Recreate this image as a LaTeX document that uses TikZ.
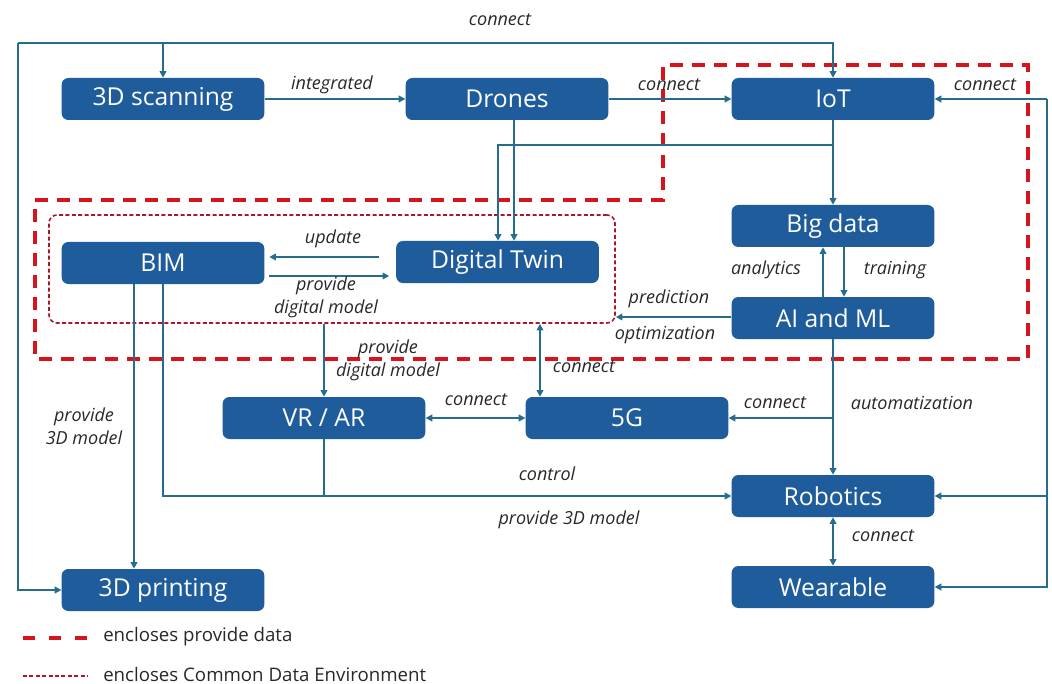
\documentclass[tikz,border=0pt]{standalone}
\usepackage{fontspec}
\setmainfont{Open Sans}
\usetikzlibrary{arrows.meta}
\definecolor{boxblue}{RGB}{31,92,155}
\definecolor{linecol}{RGB}{38,108,140}
\definecolor{reddash}{RGB}{214,20,28}
\definecolor{cdered}{RGB}{170,24,40}
\definecolor{labgray}{RGB}{40,40,40}
\tikzset{
  box/.style={fill=boxblue, rounded corners=5pt, minimum width=152pt, minimum height=31.5pt,
    inner sep=0pt, text=white, font=\fontsize{18.5}{20}\selectfont},
  conn/.style={draw=linecol, line width=1.4pt, arrows={-Triangle[length=5pt,width=5pt]}},
  dbl/.style={arrows={Triangle[length=5pt,width=5pt]-Triangle[length=5pt,width=5pt]}},
  plain/.style={draw=linecol, line width=1.4pt},
  lab/.style={text=labgray, font=\fontsize{13.5}{17}\selectfont\itshape, align=center, inner sep=0pt},
  leg/.style={text=labgray, font=\fontsize{14}{16}\selectfont, inner sep=0pt, anchor=west},
  provdata/.style={draw=reddash, line width=2.4pt, dash pattern=on 10pt off 6.5pt},
  cdebox/.style={draw=cdered, line width=1.2pt, dash pattern=on 3pt off 1.8pt, rounded corners=6pt}
}
\begin{document}
\begin{tikzpicture}[x=0.75pt,y=-0.75pt]
\useasboundingbox (0,0) rectangle (1052,684);
% enclosures
\draw[provdata] (35,200) -- (663,200) -- (663,65) -- (1028,65) -- (1028,359) -- (35,359) -- cycle;
\node[cdebox, minimum width=424.5pt, minimum height=81pt] (cde) at (332,269) {};
% nodes
\node[box] (scan) at (163,99) {3D scanning};
\node[box] (drones) at (507,99) {Drones};
\node[box] (iot) at (833,99) {IoT};
\node[box] (bim) at (163,263) {BIM};
\node[box] (dt) at (497.5,262) {Digital Twin};
\node[box] (bigdata) at (833,226) {Big data};
\node[box] (ai) at (833,318) {AI and ML};
\node[box] (vrar) at (324,418) {VR / AR};
\node[box] (fiveg) at (627,418) {5G};
\node[box] (robot) at (833,496) {Robotics};
\node[box] (wear) at (833,587) {Wearable};
\node[box] (print) at (163,590) {3D printing};
% coordinates
\coordinate (tl) at (18,43);
\coordinate (iotbr) at (833,145);
\coordinate (rx) at (1047,99);
\coordinate (dtin) at (498,0);
\coordinate (drx) at (514,0);
\coordinate (bimx) at (134,0);
\coordinate (cdex) at (540,0);
\coordinate (fgbr) at (833,418);
\coordinate (anx) at (823,0);
\coordinate (trx) at (844,0);
% top connect network
\draw[conn] (tl) -| (iot.north);
\draw[conn] (tl) |- (print.west);
\draw[conn] (scan.north |- tl) -- (scan.north);
% row 1
\draw[conn] (scan.east) -- (drones.west);
\draw[conn] (drones.east) -- (iot.west);
\draw[conn] (iot.south) -- (bigdata.north);
\draw[conn] (iotbr) -| (dt.north -| dtin);
\draw[conn] (drones.south -| drx) -- (dt.north -| drx);
% BIM <-> DT
\draw[conn, shorten <=13pt, shorten >=3.5pt] ([yshift=3.75pt]dt.west) -- ([yshift=3.75pt]dt.west -| bim.east);
\draw[conn, shorten <=3.5pt, shorten >=5pt] ([yshift=-9.75pt]bim.east) -- ([yshift=-9.75pt]bim.east -| dt.west);
% big data / AI
\draw[conn] (ai.north -| anx) -- (bigdata.south -| anx);
\draw[conn] (bigdata.south -| trx) -- (ai.north -| trx);
\draw[conn] ([yshift=0.75pt]ai.west) -- ([yshift=0.75pt]ai.west -| cde.east);
% CDE to VR/AR and 5G
\draw[conn] (cde.south -| vrar.north) -- (vrar.north);
\draw[conn, dbl] (cde.south -| cdex) -- (fiveg.north -| cdex);
\draw[conn, dbl] (vrar.east) -- (fiveg.west);
% AI to robotics and 5G
\draw[conn] (ai.south) -- (robot.north);
\draw[conn] (fgbr) -- (fiveg.east);
\draw[conn, dbl] (robot.south) -- (wear.north);
% right connect line
\draw[conn] (rx) -- (iot.east);
\draw[conn] (rx) |- (wear.east);
\draw[conn] (robot.east -| rx) -- (robot.east);
% BIM lines
\draw[conn] (bim.south -| bimx) -- (print.north -| bimx);
\draw[conn] (bim.south) |- (robot.west);
\draw[plain] (vrar.south) -- (vrar.south |- robot.west);
% labels
\node[lab] (l1) at (500,20) {connect};
\node[lab] (l2) at (332,85) {integrated};
\node[lab] (l3) at (669,85) {connect};
\node[lab] (l4) at (985,85) {connect};
\node[lab] (l5) at (333,239) {update};
\node[lab] (l6) at (326,297) {provide\\digital model};
\node[lab] (l7) at (766,270) {analytics};
\node[lab] (l8) at (895,270) {training};
\node[lab] (l9) at (669,299) {prediction};
\node[lab] (l10) at (665,335) {optimization};
\node[lab] (l11) at (388,360) {provide\\digital model};
\node[lab] (l12) at (584,367) {connect};
\node[lab] (l13) at (476,400) {connect};
\node[lab] (l14) at (775,403) {connect};
\node[lab] (l15) at (912,403) {automatization};
\node[lab] (l16) at (84,426) {provide\\3D model};
\node[lab] (l17) at (547,474) {control};
\node[lab] (l18) at (569,520) {provide 3D model};
\node[lab] (l19) at (883,536) {connect};
% legend
\coordinate (lg1a) at (23,638);
\coordinate (lg1b) at (88,638);
\coordinate (lg2a) at (23,676);
\coordinate (lg2b) at (88,676);
\draw[provdata, dash pattern=on 9pt off 10.5pt] (lg1a) -- (lg1b);
\draw[draw=cdered, line width=1.2pt, dash pattern=on 3pt off 1.8pt] (lg2a) -- (lg2b);
\node[leg] (lt1) at (103,637) {encloses provide data};
\node[leg] (lt2) at (103,674) {encloses Common Data Environment};
\end{tikzpicture}
\end{document}
